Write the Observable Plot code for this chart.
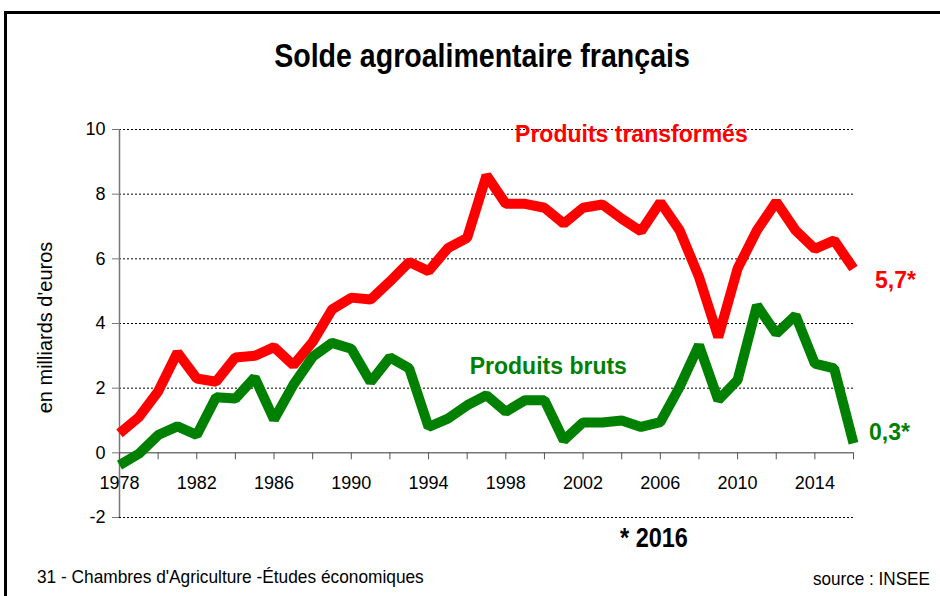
<!DOCTYPE html>
<html>
<head>
<meta charset="utf-8">
<script src="https://cdn.jsdelivr.net/npm/d3@7"></script>
<script src="https://cdn.jsdelivr.net/npm/@observablehq/plot@0.6"></script>
<style>
  html, body { margin: 0; padding: 0; background: #fff; }
  #wrap { position: relative; width: 940px; height: 596px; overflow: hidden; background: #fff; }
  #box { position: absolute; left: 4px; top: 11px; width: 960px; height: 620px; border: 3px solid #000; box-sizing: border-box; }
  .t { position: absolute; white-space: nowrap; color: #000; font-family: "Liberation Sans", Arial, sans-serif; }
  #title { left: 0; width: 964px; text-align: center; top: 36px; font-size: 33px; font-weight: bold; line-height: 40px; transform: scaleX(0.865); transform-origin: 482px 0; }
  #star { left: 620px; top: 522px; font-size: 27px; font-weight: bold; line-height: 32px; transform: scaleX(0.87); transform-origin: 0 0; }
  #cap1 { left: 37px; top: 565px; font-size: 19px; line-height: 24px; transform: scaleX(0.91); transform-origin: 0 0; }
  #cap2 { right: 10px; top: 567px; font-size: 19px; line-height: 24px; transform: scaleX(0.9); transform-origin: 100% 0; }
  #chart { position: absolute; left: 0; top: 0; }
</style>
</head>
<body>
<div id="wrap">
  <div id="box"></div>
  <div id="title" class="t">Solde agroalimentaire français</div>
  <div id="chart"></div>
  <div id="star" class="t">* 2016</div>
  <div id="cap1" class="t">31 - Chambres d'Agriculture -Études économiques</div>
  <div id="cap2" class="t">source : INSEE</div>
</div>
<script>
const years = [1978,1979,1980,1981,1982,1983,1984,1985,1986,1987,1988,1989,1990,1991,1992,1993,1994,1995,1996,1997,1998,1999,2000,2001,2002,2003,2004,2005,2006,2007,2008,2009,2010,2011,2012,2013,2014,2015,2016];
const transformes = [0.6,1.1,1.9,3.1,2.3,2.2,2.95,3.0,3.27,2.71,3.43,4.43,4.8,4.74,5.3,5.9,5.62,6.33,6.65,8.58,7.7,7.7,7.58,7.09,7.58,7.68,7.24,6.85,7.75,6.88,5.44,3.58,5.7,6.88,7.76,6.88,6.31,6.57,5.7];
const bruts = [-0.38,-0.03,0.55,0.82,0.55,1.72,1.68,2.33,1.03,2.1,2.97,3.4,3.22,2.19,2.95,2.61,0.8,1.06,1.47,1.78,1.27,1.63,1.63,0.39,0.94,0.94,1.0,0.8,0.95,2.04,3.33,1.63,2.25,4.56,3.69,4.25,2.76,2.61,0.3];
const yTicks = [-2,0,2,4,6,8,10];
const gridTicks = [-2,2,4,6,8,10];
const xTickYears = [1978,1980,1982,1984,1986,1988,1990,1992,1994,1996,1998,2000,2002,2004,2006,2008,2010,2012,2014,2016];
const xLabelYears = [1978,1982,1986,1990,1994,1998,2002,2006,2010,2014];
const seriesNames = ["Produits transformés", "Produits bruts"];
const lastLabels = ["5,7*", "0,3*"];
const yLabel = "en milliards d'euros";

const red = "#ff0000", green = "#008000";
const sans = "'Liberation Sans', Arial, sans-serif";

const dataT = years.map((y, i) => ({year: y, v: transformes[i]}));
const dataB = years.map((y, i) => ({year: y, v: bruts[i]}));

const chart = Plot.plot({
  width: 940,
  height: 596,
  marginLeft: 119,
  marginRight: 87,
  marginTop: 129,
  marginBottom: 79,
  style: {background: "transparent", overflow: "visible"},
  x: {type: "linear", domain: [1978, 2016], axis: null},
  y: {type: "linear", domain: [-2, 10], axis: null},
  marks: [
    Plot.gridY(gridTicks, {stroke: "#000", strokeOpacity: 1, strokeWidth: 1, strokeDasharray: "2,2"}),
    Plot.axisY(yTicks, {anchor: "left", tickSize: 7, tickPadding: 7, stroke: "#777", fill: "#000", fontSize: 18, fontFamily: sans, tickFormat: d => String(d), label: null}),
    Plot.ruleX([1978], {y1: -2, y2: 10, stroke: "#777", strokeWidth: 1.5}),
    Plot.ruleY([0], {stroke: "#777", strokeWidth: 1.5}),
    Plot.ruleX(xTickYears, {x: d => d, y1: 0, y2: 0, insetBottom: -7, stroke: "#555", strokeWidth: 1}),
    Plot.text(xLabelYears, {x: d => d, y: 0, text: d => String(d), dy: 30, fontSize: 18, fontFamily: sans, fill: "#000", lineAnchor: "middle"}),
    Plot.text([yLabel], {frameAnchor: "left", dx: -74, dy: 4, rotate: -90, textAnchor: "middle", fontSize: 20, fontFamily: sans, fill: "#000"}),
    Plot.line(dataT, {x: "year", y: "v", stroke: red, strokeWidth: 10, strokeLinejoin: "miter", strokeLinecap: "butt"}),
    Plot.line(dataB, {x: "year", y: "v", stroke: green, strokeWidth: 10, strokeLinejoin: "miter", strokeLinecap: "butt"}),
    Plot.text([seriesNames[0]], {x: 2004.5, y: 9.85, fill: red, fontSize: 23, fontWeight: "bold", fontFamily: sans}),
    Plot.text([seriesNames[1]], {x: 2000.2, y: 2.68, fill: green, fontSize: 23, fontWeight: "bold", fontFamily: sans}),
    Plot.text([lastLabels[0]], {x: 2016, y: 5.33, dx: 42, fill: red, fontSize: 23, fontWeight: "bold", fontFamily: sans}),
    Plot.text([lastLabels[1]], {x: 2016, y: 0.64, dx: 36, fill: green, fontSize: 23, fontWeight: "bold", fontFamily: sans})
  ]
});
document.getElementById("chart").appendChild(chart);
</script>
</body>
</html>
